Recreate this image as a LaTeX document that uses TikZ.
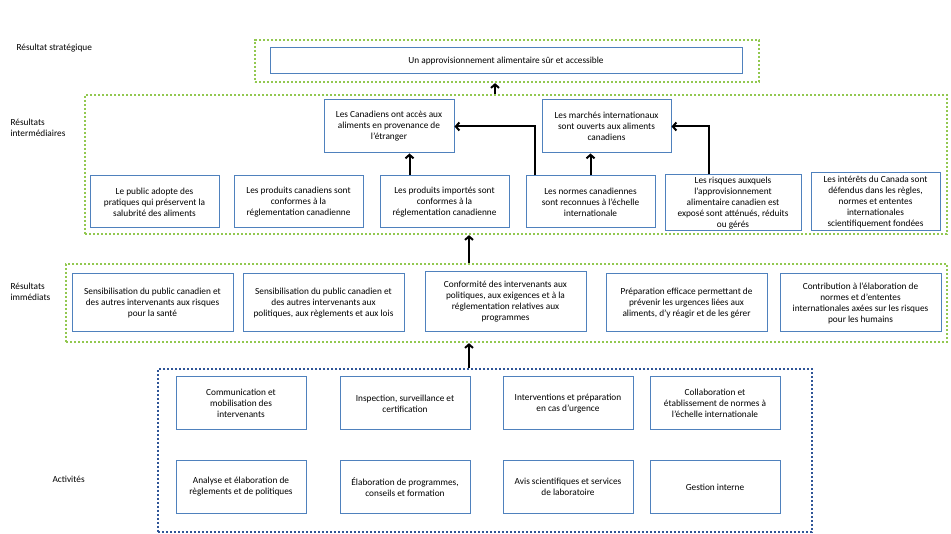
\documentclass[tikz,border=0pt]{standalone}
\usepackage{fontspec}
\setmainfont{Carlito}
\usepackage{tikz}
\usetikzlibrary{arrows.meta, positioning}

\definecolor{grpgreen}{RGB}{146,200,80}
\definecolor{boxblue}{RGB}{79,129,189}
\definecolor{actblue}{RGB}{47,85,151}

\begin{document}
\begin{tikzpicture}[
            x = 1pt, y = -1pt, % pixel grid of the reference
            > = {Straight Barb[length=3.5pt, width=8pt]}, % arrow head style
            node distance = 15pt, % distance between boxes
            font = \fontsize{9.3}{11}\selectfont
        ]

        \tikzstyle{box}=[
            draw = boxblue,
            line width = 1pt,
            fill = white,
            align = center,
            inner sep = 1pt,
            minimum width = 129pt,
            minimum height = 52pt
        ]
        \tikzstyle{group}=[
            draw = grpgreen,
            line width = 2.2pt,
            dash pattern = on 2.2pt off 1.8pt
        ]
        \tikzstyle{link}=[
            ->,
            line width = 2pt,
            black
        ]
        \tikzstyle{level}=[anchor = west, align = left]

        \useasboundingbox (0,0) rectangle (951,534);

        % groups
        \node[group, minimum width = 504pt, minimum height = 42pt] (gStrat) at (507,61) {};
        \node[group, minimum width = 862pt, minimum height = 139pt] (gInter) at (516,164.5) {};
        \node[group, minimum width = 881pt, minimum height = 78pt] (gImm) at (506.5,303) {};
        \node[group, draw = actblue, minimum width = 654pt, minimum height = 163pt] (gAct) at (485,450.5) {};

        % level labels
        \node[level] (lStrat) at (13,48) {Résultat stratégique};
        \node[level] (lInter) at (7,127.5) {Résultats\\intermédiaires};
        \node[level] (lImm) at (7,291.5) {Résultats\\immédiats};
        \node[level] (lAct) at (49,479) {Activités};

        % strategic outcome
        \node[box, minimum width = 472pt, minimum height = 26pt] (s1) at (506,61) {Un approvisionnement alimentaire sûr et accessible};

        % intermediate outcomes
        \node[box, minimum width = 130pt, minimum height = 53pt] (t1) at (389,126.5) {Les Canadiens ont accès aux\\aliments en provenance de\\l’étranger};
        \node[box, minimum height = 53pt] (t2) at (606.5,126.5) {Les marchés internationaux\\sont ouverts aux aliments\\canadiens};

        \node[box] (b1) at (154.5,202) {Le public adopte des\\pratiques qui préservent la\\salubrité des aliments};
        \node[box] (b2) [right = 14pt of b1] {Les produits canadiens sont\\conformes à la\\réglementation canadienne};
        \node[box] (b3) [right = 16pt of b2] {Les produits importés sont\\conformes à la\\réglementation canadienne};
        \node[box] (b4) [right = 16pt of b3] {Les normes canadiennes\\sont reconnues à l’échelle\\internationale};
        \node[box, minimum width = 136pt, minimum height = 56pt] (b5) at (733,203) {Les risques auxquels\\l’approvisionnement\\alimentaire canadien est\\exposé sont atténués, réduits\\ou gérés};
        \node[box, minimum height = 58pt] (b6) at (875.5,202) {Les intérêts du Canada sont\\défendus dans les règles,\\normes et ententes\\internationales\\scientifiquement fondées};

        % immediate outcomes
        \tikzstyle{imm}=[box, minimum width = 161pt, minimum height = 58pt]
        \node[imm] (i1) at (152.5,303) {Sensibilisation du public canadien et\\des autres intervenants aux risques\\pour la santé};
        \node[imm] (i2) [right = 9pt of i1] {Sensibilisation du public canadien et\\des autres intervenants aux\\politiques, aux règlements et aux lois};
        \node[imm, minimum height = 60pt] (i3) at (505.5,302) {Conformité des intervenants aux\\politiques, aux exigences et à la\\réglementation relatives aux\\programmes};
        \node[imm] (i4) [right = 19pt of i3.east |- i2.east, anchor = west] {Préparation efficace permettant de\\prévenir les urgences liées aux\\aliments, d’y réagir et de les gérer};
        \node[imm] (i5) [right = 12pt of i4] {Contribution à l’élaboration de\\normes et d’ententes\\internationales axées sur les risques\\pour les humains};

        % activities
        \tikzstyle{act}=[box, minimum width = 130pt, minimum height = 53pt]
        \node[act] (a1) at (241,403.5) {Communication et\\mobilisation des\\intervenants};
        \node[act] (a2) [right = 33pt of a1] {Inspection, surveillance et\\certification};
        \node[act] (a3) [right = 32pt of a2] {Interventions et préparation\\en cas d’urgence};
        \node[act] (a4) [right = 16pt of a3] {Collaboration et\\établissement de normes à\\l’échelle internationale};
        \node[act] (a5) at (241,487) {Analyse et élaboration de\\règlements et de politiques};
        \node[act] (a6) [right = 33pt of a5] {Élaboration de programmes,\\conseils et formation};
        \node[act] (a7) [right = 32pt of a6] {Avis scientifiques et services\\de laboratoire};
        \node[act] (a8) [right = 16pt of a7] {Gestion interne};

        % links between levels
        \draw[link] ([xshift = -16pt]gAct.north) -- ([xshift = -16pt]gAct.north |- gImm.south);
        \draw[link] ([xshift = -37.5pt]gImm.north) -- ([xshift = -37.5pt]gImm.north |- gInter.south);
        \draw[link] ([xshift = -21pt]gInter.north) -- ([xshift = -21pt]gInter.north |- gStrat.south);

        % links inside the intermediate outcomes
        \draw[link] ([xshift = -35pt]b3.north) -- ([xshift = -35pt]b3.north |- t1.south);
        \draw[link] ([xshift = -56pt]b4.north) |- (t1.east);
        \draw[link] (b4.north) -- (b4.north |- t2.south);
        \draw[link] ([xshift = -24pt]b5.north) |- (t2.east);
    \end{tikzpicture}
\end{document}
